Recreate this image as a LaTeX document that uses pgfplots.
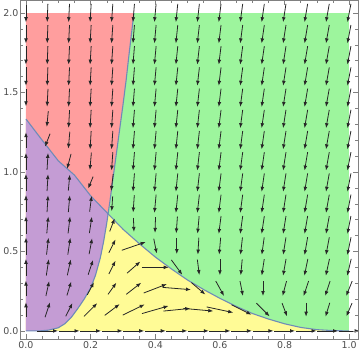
\documentclass[border=0pt]{standalone}
\usepackage{pgfplots}
\pgfplotsset{compat=1.18}
\usepackage{pgfplotstable}
\usepackage{fontspec}
\setmainfont{DejaVu Sans}
\usetikzlibrary{arrows.meta}
\definecolor{cred}{HTML}{FF9E9E}
\definecolor{cgreen}{HTML}{9DF59D}
\definecolor{cpurple}{HTML}{C49CD4}
\definecolor{cyellow}{HTML}{FFFB96}
\definecolor{ccurve}{HTML}{6E8BB8}
\definecolor{cframe}{HTML}{808080}
\definecolor{clabel}{HTML}{4D4D4D}

\pgfplotstableread{
x y sx sy
0 2 0 -18.5
0.0667 2 -0.7 -18.5
0.1333 2 -0.9 -18.5
0.2 2 -1.1 -18.5
0.2667 2 -1.3 -18.5
0.3333 2 -1.5 -18.5
0.4 2 -1.7 -18.5
0.4667 2 -1.9 -18.5
0.5333 2 -2.1 -18.5
0.6 2 -2.3 -18.5
0.6667 2 -2.5 -18.5
0.7333 2 -2.7 -18.5
0.8 2 -2.9 -18.5
0.8667 2 -3.1 -18.5
0.9333 2 -3.3 -18.5
1 2 -3.5 -18.5
0 1.8667 0 -18.5
0.0667 1.8667 -0.7 -18.5
0.1333 1.8667 -0.9 -18.5
0.2 1.8667 -1.1 -18.5
0.2667 1.8667 -1.3 -18.5
0.3333 1.8667 -1.5 -18.5
0.4 1.8667 -1.7 -18.5
0.4667 1.8667 -1.9 -18.5
0.5333 1.8667 -2.1 -18.5
0.6 1.8667 -2.3 -18.5
0.6667 1.8667 -2.5 -18.5
0.7333 1.8667 -2.7 -18.5
0.8 1.8667 -2.9 -18.5
0.8667 1.8667 -3.1 -18.5
0.9333 1.8667 -3.3 -18.5
1 1.8667 -3.5 -18.5
0 1.7333 0 -18.5
0.0667 1.7333 -0.7 -18.5
0.1333 1.7333 -0.9 -18.5
0.2 1.7333 -1.1 -18.5
0.2667 1.7333 -1.3 -18.5
0.3333 1.7333 -1.5 -18.5
0.4 1.7333 -1.7 -18.5
0.4667 1.7333 -1.9 -18.5
0.5333 1.7333 -2.1 -18.5
0.6 1.7333 -2.3 -18.5
0.6667 1.7333 -2.5 -18.5
0.7333 1.7333 -2.7 -18.5
0.8 1.7333 -2.9 -18.5
0.8667 1.7333 -3.1 -18.5
0.9333 1.7333 -3.3 -18.5
1 1.7333 -3.5 -18.5
0 1.6 0 -18.5
0.0667 1.6 -0.7 -18.5
0.1333 1.6 -0.9 -18.5
0.2 1.6 -1.1 -18.5
0.2667 1.6 -1.3 -18.5
0.3333 1.6 -1.5 -18.5
0.4 1.6 -1.7 -18.5
0.4667 1.6 -1.9 -18.5
0.5333 1.6 -2.1 -18.5
0.6 1.6 -2.3 -18.5
0.6667 1.6 -2.5 -18.5
0.7333 1.6 -2.7 -18.5
0.8 1.6 -2.9 -18.5
0.8667 1.6 -3.1 -18.5
0.9333 1.6 -3.3 -18.5
1 1.6 -3.5 -18.5
0 1.4667 0 -17
0.0667 1.4667 -0.9 -18
0.1333 1.4667 -0.9 -18.5
0.2 1.4667 -1.1 -18.5
0.2667 1.4667 -1.3 -18.5
0.3333 1.4667 -1.5 -18.5
0.4 1.4667 -1.7 -18.5
0.4667 1.4667 -1.9 -18.5
0.5333 1.4667 -2.1 -18.5
0.6 1.4667 -2.3 -18.5
0.6667 1.4667 -2.5 -18.5
0.7333 1.4667 -2.7 -18.5
0.8 1.4667 -2.9 -18.5
0.8667 1.4667 -3.1 -18.5
0.9333 1.4667 -3.3 -18.5
1 1.4667 -3.5 -18.5
0.0667 1.3333 -1.5 -16
0.1333 1.3333 -1 -18
0.2 1.3333 -1.1 -18.5
0.2667 1.3333 -1.3 -18.5
0.3333 1.3333 -1.5 -18.5
0.4 1.3333 -1.7 -18.5
0.4667 1.3333 -1.9 -18.5
0.5333 1.3333 -2.1 -18.5
0.6 1.3333 -2.3 -18.5
0.6667 1.3333 -2.5 -18.5
0.7333 1.3333 -2.7 -18.5
0.8 1.3333 -2.9 -18.5
0.8667 1.3333 -3.1 -18.5
0.9333 1.3333 -3.3 -18.5
1 1.3333 -3.5 -18.5
0 1.2 0 16
0.0667 1.2 -5 -13
0.1333 1.2 -1.5 -17
0.2 1.2 -1.1 -18.5
0.2667 1.2 -1.3 -18.5
0.3333 1.2 -1.5 -18.5
0.4 1.2 -1.7 -18.5
0.4667 1.2 -1.9 -18.5
0.5333 1.2 -2.1 -18.5
0.6 1.2 -2.3 -18.5
0.6667 1.2 -2.5 -18.5
0.7333 1.2 -2.7 -18.5
0.8 1.2 -2.9 -18.5
0.8667 1.2 -3.1 -18.5
0.9333 1.2 -3.3 -18.5
1 1.2 -3.5 -18.5
0 1.0667 0 17
0.0667 1.0667 1 17
0.1333 1.0667 -4 -15
0.2 1.0667 -1.5 -17.5
0.2667 1.0667 -1.3 -18.5
0.3333 1.0667 -1.5 -18.5
0.4 1.0667 -1.7 -18.5
0.4667 1.0667 -1.9 -18.5
0.5333 1.0667 -2.1 -18.5
0.6 1.0667 -2.3 -18.5
0.6667 1.0667 -2.5 -18.5
0.7333 1.0667 -2.7 -18.5
0.8 1.0667 -2.9 -18.5
0.8667 1.0667 -3.1 -18.5
0.9333 1.0667 -3.3 -18.5
1 1.0667 -3.5 -18.5
0 0.9333 0 17.5
0.0667 0.9333 1 17
0.1333 0.9333 1.5 16
0.2 0.9333 -5 -12
0.2667 0.9333 -2 -17
0.3333 0.9333 -1.5 -18.5
0.4 0.9333 -1.7 -18.5
0.4667 0.9333 -1.9 -18.5
0.5333 0.9333 -2.1 -18.5
0.6 0.9333 -2.3 -18.5
0.6667 0.9333 -2.5 -18.5
0.7333 0.9333 -2.7 -18.5
0.8 0.9333 -2.9 -18.5
0.8667 0.9333 -3.1 -18.5
0.9333 0.9333 -3.3 -18.5
1 0.9333 -3.5 -18.5
0 0.8 0 17.5
0.0667 0.8 1 17
0.1333 0.8 1.5 17
0.2 0.8 2 16
0.2667 0.8 -1 -15
0.3333 0.8 -1.2 -17.5
0.4 0.8 -1.7 -18.5
0.4667 0.8 -1.9 -18.5
0.5333 0.8 -2.1 -18.5
0.6 0.8 -2.3 -18.5
0.6667 0.8 -2.5 -18.5
0.7333 0.8 -2.7 -18.5
0.8 0.8 -2.9 -18.5
0.8667 0.8 -3.1 -18.5
0.9333 0.8 -3.3 -18.5
1 0.8 -3.5 -18.5
0 0.6667 0 17.5
0.0667 0.6667 1.5 17
0.1333 0.6667 2 17
0.2 0.6667 2.5 16.5
0.2667 0.6667 5 13
0.3333 0.6667 0.5 -14
0.4 0.6667 -0.5 -16
0.4667 0.6667 -1.2 -17
0.5333 0.6667 -1.6 -17.5
0.6 0.6667 -2.3 -18
0.6667 0.6667 -2.5 -18
0.7333 0.6667 -2.7 -18
0.8 0.6667 -2.9 -18
0.8667 0.6667 -3.1 -18
0.9333 0.6667 -3.3 -18
1 0.6667 -3.5 -18
0 0.5333 0 17.5
0.0667 0.5333 2 17
0.1333 0.5333 2.5 17
0.2 0.5333 3 16
0.2667 0.5333 6.7 13.3
0.3333 0.5333 24 8.3
0.4 0.5333 3 -15
0.4667 0.5333 0 -16
0.5333 0.5333 -1 -17
0.6 0.5333 -1.5 -17
0.6667 0.5333 -2 -17.5
0.7333 0.5333 -2.4 -17.5
0.8 0.5333 -2.8 -17.5
0.8667 0.5333 -3.1 -18
0.9333 0.5333 -3.4 -18
1 0.5333 -3.7 -18
0 0.4 0 17
0.0667 0.4 2.5 16.5
0.1333 0.4 3.5 16
0.2 0.4 5 15
0.2667 0.4 6.7 13.3
0.3333 0.4 13.3 11.7
0.4 0.4 27 0
0.4667 0.4 11 -15
0.5333 0.4 2 -15.5
0.6 0.4 0 -16
0.6667 0.4 -1.5 -16
0.7333 0.4 -2.5 -16.5
0.8 0.4 -3 -17
0.8667 0.4 -3.5 -17
0.9333 0.4 -3.7 -17
1 0.4 -4 -17
0 0.2667 0 16
0.0667 0.2667 3.3 15
0.1333 0.2667 4.3 14
0.2 0.2667 6.7 12.7
0.2667 0.2667 8.3 11.7
0.3333 0.2667 15 11.7
0.4 0.2667 23.3 9
0.4667 0.2667 28.3 -2.3
0.5333 0.2667 14 -12
0.6 0.2667 8.3 -15
0.6667 0.2667 3 -15
0.7333 0.2667 0 -15
0.8 0.2667 -4 -15
0.8667 0.2667 -5 -15
0.9333 0.2667 -5 -15
1 0.2667 -6 -15
0 0.1333 0 15
0.0667 0.1333 5 15
0.1333 0.1333 6.7 13.3
0.2 0.1333 13.3 13.3
0.2667 0.1333 15 11.3
0.3333 0.1333 22 10.7
0.4 0.1333 26.7 7.7
0.4667 0.1333 27 2.7
0.5333 0.1333 30 -2.7
0.6 0.1333 26.7 -5.7
0.6667 0.1333 20 -10
0.7333 0.1333 13.3 -13.3
0.8 0.1333 5 -13.3
0.8667 0.1333 0 -14
0.9333 0.1333 -4.3 -14
1 0.1333 -5.7 -13.3
0.0667 0 21 0
0.1333 0 21 0
0.2 0 21 0
0.2667 0 21 0
0.3333 0 21 0
0.4 0 21 0
0.4667 0 21 0
0.5333 0 21 0
0.6 0 21 0
0.6667 0 21 0
0.7333 0 21 0
0.8 0 21 0
0.8667 0 21 0
0.9333 0 21 0
1 0 21 0
}\field

\begin{document}
\begin{tikzpicture}
\begin{axis}[
  scale only axis,
  width=340pt, height=341pt,
  xmin=-0.0175, xmax=1.027, ymin=-0.05, ymax=2.08,
  axis on top,
  axis line style={cframe, line width=0.6pt},
  tick style={cframe, line width=0.5pt},
  tick align=inside,
  major tick length=5pt, minor tick length=3pt,
  xtick={0,0.2,0.4,0.6,0.8,1.0},
  ytick={0,0.5,1.0,1.5,2.0},
  minor x tick num=3, minor y tick num=4,
  /pgf/number format/assume math mode=true,
  xticklabel style={/pgf/number format/.cd, fixed, fixed zerofill, precision=1},
  yticklabel style={/pgf/number format/.cd, fixed, fixed zerofill, precision=1},
  ticklabel style={font=\fontsize{9.5}{10}\selectfont, text=clabel},
  xticklabel shift=-1pt, yticklabel shift=-1.5pt,
]
% green background
\addplot[draw=none, fill=cgreen] coordinates {(0,0) (1,0) (1,2) (0,2)} --cycle;
% yellow: below C2
\addplot[draw=none, fill=cyellow] coordinates {
(0,0) (0,1.333) (0.05,1.2) (0.1,1.07) (0.15,0.98) (0.2,0.85) (0.25,0.745) (0.3,0.64) (0.35,0.55) (0.4,0.465) (0.45,0.39) (0.5,0.32) (0.55,0.26) (0.6,0.205) (0.65,0.155) (0.7,0.11) (0.75,0.075) (0.8,0.045) (0.85,0.022) (0.9,0.008) (0.95,0.002) (1,0)} --cycle;
% red: left of C1
\addplot[draw=none, fill=cred] coordinates {
(0,0) (0.04,0) (0.07,0.005) (0.1,0.02) (0.12,0.045) (0.14,0.085) (0.16,0.14) (0.18,0.2) (0.2,0.27) (0.215,0.35) (0.23,0.46) (0.24,0.56) (0.25,0.68) (0.26,0.82) (0.27,0.97) (0.28,1.12) (0.29,1.27) (0.3,1.42) (0.31,1.58) (0.32,1.76) (0.334,2) (0,2)} --cycle;
% purple: left of C1 and below C2
\addplot[draw=none, fill=cpurple] coordinates {
(0,0) (0.04,0) (0.07,0.005) (0.1,0.02) (0.12,0.045) (0.14,0.085) (0.16,0.14) (0.18,0.2) (0.2,0.27) (0.215,0.35) (0.23,0.46) (0.24,0.56) (0.25,0.68) (0.254,0.74) (0.2,0.85) (0.15,0.98) (0.1,1.07) (0.05,1.2) (0,1.333)} --cycle;
% curves
\addplot[ccurve, line width=1.1pt] coordinates {
(0,0) (0.04,0) (0.07,0.005) (0.1,0.02) (0.12,0.045) (0.14,0.085) (0.16,0.14) (0.18,0.2) (0.2,0.27) (0.215,0.35) (0.23,0.46) (0.24,0.56) (0.25,0.68) (0.26,0.82) (0.27,0.97) (0.28,1.12) (0.29,1.27) (0.3,1.42) (0.31,1.58) (0.32,1.76) (0.334,2)};
\addplot[ccurve, line width=1.1pt] coordinates {
(0,1.333) (0.05,1.2) (0.1,1.07) (0.15,0.98) (0.2,0.85) (0.25,0.745) (0.3,0.64) (0.35,0.55) (0.4,0.465) (0.45,0.39) (0.5,0.32) (0.55,0.26) (0.6,0.205) (0.65,0.155) (0.7,0.11) (0.75,0.075) (0.8,0.045) (0.85,0.022) (0.9,0.008) (0.95,0.002) (1,0)};
% vector field
\addplot[black!85, line width=0.8pt, -{Latex[length=5pt,width=3.8pt]},
  quiver={u=\thisrow{sx}*0.003077, v=\thisrow{sy}*0.006246}]
  table[x expr=\thisrow{x}-0.5*\thisrow{sx}*0.003077,
        y expr=\thisrow{y}-0.5*\thisrow{sy}*0.006246] {\field};
\end{axis}
\end{tikzpicture}
\end{document}
